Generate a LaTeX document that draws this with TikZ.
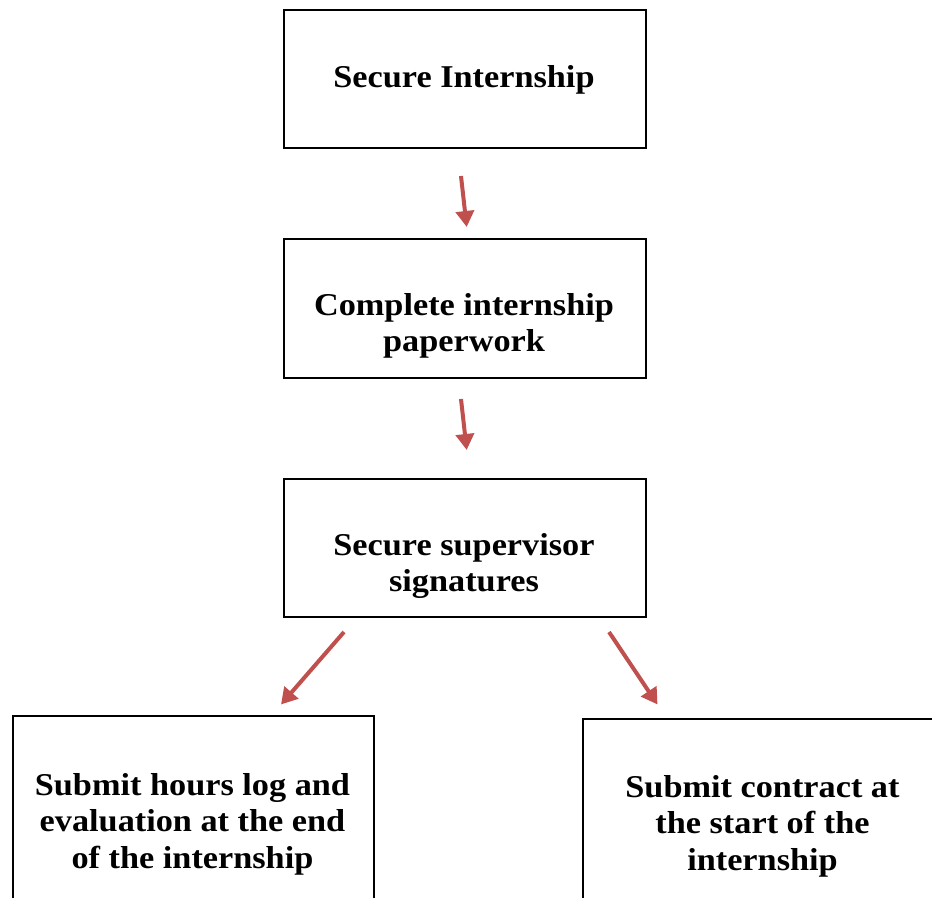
\documentclass[tikz,border=0pt]{standalone}
\usepackage{fontspec}
\setmainfont{Liberation Serif}[FakeStretch=1.08]
\usetikzlibrary{arrows.meta}
\definecolor{arrowred}{HTML}{C0504D}
\begin{document}
\begin{tikzpicture}[x=0.75pt,y=-0.75pt,
  stepbox/.style={draw=black, line width=1.5pt, fill=white, anchor=north west, inner sep=0pt},
  txt/.style={align=center, inner sep=0pt, anchor=north, font=\fontsize{23.8}{27.5}\selectfont\bfseries},
  flow/.style={draw=arrowred, line width=3pt, -{Triangle[width=13.5pt,length=12pt]}}]
\useasboundingbox (0,0) rectangle (932,898);
\clip (0,0) rectangle (932,898);
% boxes
\node[stepbox, minimum width=271.5pt, minimum height=103.5pt] (b1) at (283,9) {};
\node[stepbox, minimum width=271.5pt, minimum height=104.25pt] (b2) at (283,238) {};
\node[stepbox, minimum width=271.5pt, minimum height=103.5pt] (b3) at (283,478) {};
\node[stepbox, minimum width=270.75pt, minimum height=150pt] (b4) at (12,715) {};
\node[stepbox, minimum width=270.75pt, minimum height=150pt] (b5) at (582,718) {};
% texts
\node[txt] (t1) at (464,61.3) {\strut Secure Internship};
\node[txt] (t2) at (464,289.3) {\strut Complete internship\\\strut paperwork};
\node[txt] (t3) at (464,529.3) {\strut Secure supervisor\\\strut signatures};
\node[txt] (t4) at (192.5,769.3) {\strut Submit hours log and\\\strut evaluation at the end\\\strut of the internship};
\node[txt] (t5) at (762.5,771.3) {\strut Submit contract at\\\strut the start of the\\\strut internship};
% arrow ends
\coordinate (a1s) at (461,176);
\coordinate (a1e) at (466.7,227);
\coordinate (a2s) at (461,399);
\coordinate (a2e) at (466.7,450);
\coordinate (a3s) at (344,632);
\coordinate (a3e) at (281,704.5);
\coordinate (a4s) at (609,632);
\coordinate (a4e) at (657.5,704.5);
\draw[flow] (a1s) -- (a1e);
\draw[flow] (a2s) -- (a2e);
\draw[flow] (a3s) -- (a3e);
\draw[flow] (a4s) -- (a4e);
\end{tikzpicture}
\end{document}
